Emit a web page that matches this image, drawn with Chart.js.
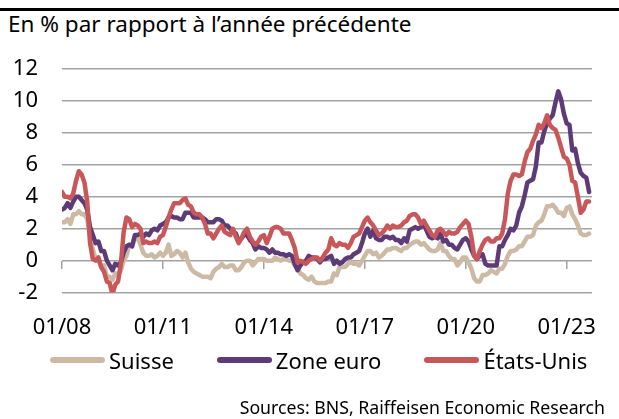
<!DOCTYPE html>
<html>
<head>
<meta charset="utf-8">
<script src="https://cdn.jsdelivr.net/npm/chart.js@4"></script>
<style>
  html, body { margin: 0; padding: 0; background: #fff; }
  #wrap { position: relative; width: 619px; height: 419px; overflow: hidden; font-family: 'Noto Sans', sans-serif; color: #000; }
  #bar { position: absolute; left: 0; top: 8px; width: 619px; height: 3px; background: #000; }
  #title { position: absolute; left: 8px; top: 13px; font-size: 22.5px; line-height: 1; white-space: nowrap; }
  #source { position: absolute; right: 14px; top: 395px; font-size: 17.7px; white-space: nowrap; }
  #legend { position: absolute; left: 50px; top: 349px; height: 22px; display: flex; align-items: center; font-size: 22px; line-height: 22px; white-space: nowrap; }
  .item { display: flex; align-items: center; margin-right: 43px; white-space: nowrap; }
  .swatch { width: 55px; height: 6px; border-radius: 3px; margin-right: 4px; flex: none; }
  canvas { position: absolute; left: 0; top: 0; }
</style>
</head>
<body>
<div id="wrap">
  <div id="bar"></div>
  <div id="title">En % par rapport à l’année précédente</div>
  <canvas id="chart" width="619" height="419"></canvas>
  <div id="legend"></div>
  <div id="source">Sources: BNS, Raiffeisen Economic Research</div>
</div>
<script>
// Inflation annuelle, mensuel de 01/2008 à 09/2023
const seriesNames = ['Suisse', 'Zone euro', 'États-Unis'];
const tickLabels = ['01/08', '01/11', '01/14', '01/17', '01/20', '01/23'];

const suisse = [
  2.4, 2.4, 2.6, 2.3, 2.9, 2.9, 3.1, 2.9, 2.9, 2.6, 1.5, 0.7,
  0.1, 0.0, -0.4, -0.3, -1.0, -1.0, -1.2, -0.8, -0.9, -0.6, 0.0, 0.3,
  1.0, 0.9, 1.4, 1.4, 1.0, 0.5, 0.3, 0.3, 0.4, 0.2, 0.3, 0.5,
  0.3, 0.5, 1.0, 0.3, 0.4, 0.6, 0.5, 0.2, 0.5, -0.1, -0.5, -0.7,
  -0.8, -0.9, -1.0, -1.0, -1.0, -1.1, -0.7, -0.5, -0.4, -0.2, -0.4, -0.4,
  -0.3, -0.3, -0.6, -0.6, -0.4, -0.1, 0.0, 0.0, -0.3, -0.1, 0.1, 0.1,
  0.1, 0.0, 0.0, 0.0, 0.2, 0.1, 0.0, 0.1, 0.1, 0.0, 0.0, -0.3,
  -0.5, -0.8, -0.9, -1.1, -1.2, -1.0, -1.3, -1.4, -1.4, -1.4, -1.4, -1.3,
  -1.3, -0.8, -0.9, -0.4, -0.4, -0.4, -0.2, -0.1, -0.2, -0.2, -0.3, 0.0,
  0.3, 0.6, 0.6, 0.4, 0.5, 0.2, 0.3, 0.5, 0.7, 0.7, 0.8, 0.8,
  0.7, 0.6, 0.8, 0.8, 1.0, 1.1, 1.2, 1.2, 1.0, 1.1, 0.9, 0.7,
  0.6, 0.6, 0.7, 1.1, 0.6, 0.6, 0.3, 0.1, 0.1, -0.3, -0.1, 0.2,
  0.2, -0.1, -0.5, -1.1, -1.3, -1.3, -0.9, -0.9, -0.8, -0.6, -0.7, -0.8,
  -0.5, -0.5, -0.2, 0.3, 0.6, 0.6, 0.7, 0.9, 0.9, 1.2, 1.5, 1.5,
  1.6, 2.2, 2.4, 2.5, 2.9, 3.4, 3.4, 3.5, 3.3, 3.0, 3.0, 2.8,
  3.3, 3.4, 2.9, 2.6, 2.2, 1.7, 1.6, 1.6, 1.7
];

const zoneEuro = [
  3.2, 3.3, 3.6, 3.3, 3.7, 4.0, 4.0, 3.8, 3.6, 3.2, 2.1, 1.6,
  1.1, 1.2, 0.6, 0.6, 0.0, -0.3, -0.6, -0.2, -0.3, -0.1, 0.5, 0.9,
  1.0, 0.9, 1.6, 1.6, 1.7, 1.5, 1.7, 1.6, 1.9, 2.0, 1.9, 2.2,
  2.3, 2.4, 2.7, 2.8, 2.7, 2.7, 2.6, 2.6, 3.0, 3.0, 3.0, 2.7,
  2.7, 2.7, 2.7, 2.6, 2.4, 2.4, 2.4, 2.6, 2.6, 2.5, 2.2, 2.2,
  2.0, 1.8, 1.7, 1.2, 1.4, 1.6, 1.6, 1.3, 1.1, 0.7, 0.9, 0.8,
  0.8, 0.7, 0.5, 0.7, 0.5, 0.5, 0.4, 0.4, 0.3, 0.4, 0.3, -0.2,
  -0.6, -0.3, -0.1, 0.0, 0.3, 0.2, 0.2, 0.1, -0.1, 0.1, 0.1, 0.2,
  0.3, -0.2, 0.0, -0.2, -0.1, 0.1, 0.2, 0.2, 0.4, 0.5, 0.6, 1.1,
  1.7, 2.0, 1.5, 1.9, 1.4, 1.3, 1.3, 1.5, 1.5, 1.4, 1.5, 1.3,
  1.3, 1.1, 1.4, 1.2, 1.9, 2.0, 2.1, 2.0, 2.1, 2.3, 1.9, 1.5,
  1.4, 1.5, 1.4, 1.7, 1.2, 1.3, 1.0, 1.0, 0.8, 0.7, 1.0, 1.3,
  1.4, 1.2, 0.7, 0.3, 0.1, 0.3, 0.4, -0.2, -0.3, -0.3, -0.3, -0.3,
  0.9, 0.9, 1.3, 1.6, 2.0, 1.9, 2.2, 3.0, 3.4, 4.1, 4.9, 5.0,
  5.1, 5.9, 7.4, 7.4, 8.1, 8.6, 8.9, 9.1, 9.9, 10.6, 10.1, 9.2,
  8.6, 8.5, 6.9, 7.0, 6.1, 5.5, 5.3, 5.2, 4.3
];

const etatsUnis = [
  4.3, 4.0, 4.0, 3.9, 4.2, 5.0, 5.6, 5.4, 4.9, 3.7, 1.1, 0.1,
  0.0, 0.2, -0.4, -0.7, -1.3, -1.4, -2.1, -1.5, -1.3, -0.2, 1.8, 2.7,
  2.6, 2.1, 2.3, 2.2, 2.0, 1.1, 1.2, 1.1, 1.1, 1.2, 1.1, 1.5,
  1.6, 2.1, 2.7, 3.2, 3.6, 3.6, 3.6, 3.8, 3.9, 3.5, 3.4, 3.0,
  2.9, 2.9, 2.7, 2.3, 1.7, 1.7, 1.4, 1.7, 2.0, 2.2, 1.8, 1.7,
  1.6, 2.0, 1.5, 1.1, 1.4, 1.8, 2.0, 1.5, 1.2, 1.0, 1.2, 1.5,
  1.6, 1.1, 1.5, 2.0, 2.1, 2.1, 2.0, 1.7, 1.7, 1.7, 1.3, 0.8,
  -0.1, 0.0, -0.1, -0.2, 0.0, 0.1, 0.2, 0.2, 0.0, 0.2, 0.5, 0.7,
  1.4, 1.0, 0.9, 1.1, 1.0, 1.0, 0.8, 1.1, 1.5, 1.6, 1.7, 2.1,
  2.5, 2.7, 2.4, 2.2, 1.9, 1.6, 1.7, 1.9, 2.2, 2.0, 2.2, 2.1,
  2.1, 2.2, 2.4, 2.5, 2.8, 2.9, 2.9, 2.7, 2.3, 2.5, 2.2, 1.9,
  1.6, 1.5, 1.9, 2.0, 1.8, 1.6, 1.8, 1.7, 1.7, 1.8, 2.1, 2.3,
  2.5, 2.3, 1.5, 0.3, 0.1, 0.6, 1.0, 1.3, 1.4, 1.2, 1.2, 1.4,
  1.4, 1.7, 2.6, 4.2, 5.0, 5.4, 5.4, 5.3, 5.4, 6.2, 6.8, 7.0,
  7.5, 7.9, 8.5, 8.3, 8.6, 9.1, 8.5, 8.3, 8.2, 7.7, 7.1, 6.5,
  6.4, 6.0, 5.0, 4.9, 4.0, 3.0, 3.2, 3.7, 3.7
];

const colors = ['#cdbaa5', '#5c3b77', '#c9575a'];
const gridColor = '#a3a3a3';

function toPoints(values) {
  return values.map((v, i) => ({ x: i, y: v }));
}

function makeDataset(label, values, color, order) {
  return {
    label: label,
    data: toPoints(values),
    borderColor: color,
    backgroundColor: color,
    borderWidth: 4.5,
    pointRadius: 0,
    tension: 0,
    borderJoinStyle: 'round',
    borderCapStyle: 'round',
    order: order
  };
}

// légende en HTML, dans l'ordre des séries
const legendEl = document.getElementById('legend');
seriesNames.forEach((name, i) => {
  const item = document.createElement('div');
  item.className = 'item';
  item.innerHTML = `<span class="swatch" style="background:${colors[i]}"></span><span>${name}</span>`;
  legendEl.appendChild(item);
});

const ctx = document.getElementById('chart').getContext('2d');
Chart.defaults.font.family = "'Noto Sans', sans-serif";
Chart.defaults.color = '#000';

new Chart(ctx, {
  type: 'line',
  data: {
    datasets: [
      makeDataset(seriesNames[0], suisse, colors[0], 2),
      makeDataset(seriesNames[1], zoneEuro, colors[1], 1),
      makeDataset(seriesNames[2], etatsUnis, colors[2], 0)
    ]
  },
  options: {
    responsive: false,
    animation: false,
    layout: { padding: { left: 8, right: 22, top: 69, bottom: 56 } },
    scales: {
      x: {
        type: 'linear',
        min: 0,
        max: 189,
        grid: { display: false, drawTicks: false },
        border: { display: false },
        ticks: {
          stepSize: 36,
          includeBounds: false,
          autoSkip: false,
          maxRotation: 0,
          padding: 22,
          font: { size: 22 },
          callback: (value) => tickLabels[value / 36]
        }
      },
      xZero: {
        type: 'linear',
        axis: 'x',
        min: 0,
        max: 189,
        position: { y: 0 },
        grid: { drawOnChartArea: false, color: gridColor, lineWidth: 1.5, tickLength: 8 },
        border: { display: false },
        ticks: { stepSize: 36, includeBounds: false, display: false }
      },
      y: {
        min: -2,
        max: 12,
        grid: { color: gridColor, lineWidth: 1.5, drawTicks: false },
        border: { display: false },
        ticks: { stepSize: 2, autoSkip: false, padding: 24, font: { size: 22 } },
        afterFit: (scale) => { scale.width = 54; }
      }
    },
    plugins: {
      legend: { display: false },
      tooltip: { enabled: false }
    }
  }
});
</script>
</body>
</html>
